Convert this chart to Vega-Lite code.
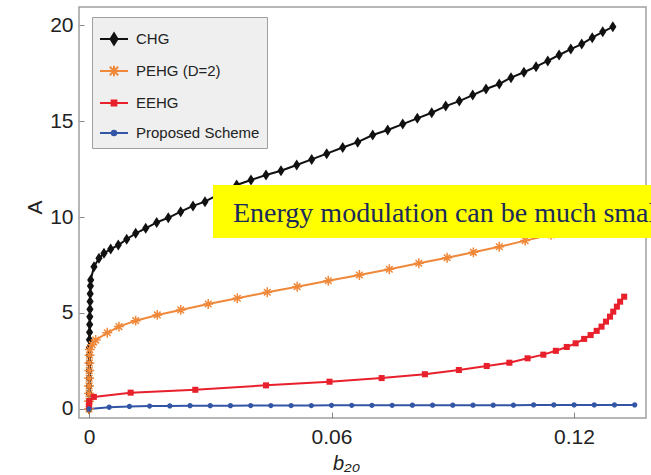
{
  "$schema": "https://vega.github.io/schema/vega-lite/v6.json",
  "width": 567,
  "height": 411,
  "autosize": {"type": "none"},
  "padding": {"left": 79, "top": 7, "right": 5, "bottom": 57},
  "background": "white",
  "config": {"view": {"stroke": "#a0a0a0", "strokeWidth": 1.5}, "font": "Liberation Sans"},
  "datasets": {
    "curves": [
      {"series": "CHG", "b": 0, "A": 0},
      {"series": "CHG", "b": 0.00001, "A": 0.4},
      {"series": "CHG", "b": 0.00002, "A": 0.8},
      {"series": "CHG", "b": 0.00003, "A": 1.2},
      {"series": "CHG", "b": 0.00004, "A": 1.6},
      {"series": "CHG", "b": 0.00005, "A": 2.0},
      {"series": "CHG", "b": 0.00006, "A": 2.4},
      {"series": "CHG", "b": 0.00008, "A": 2.8},
      {"series": "CHG", "b": 0.0001, "A": 3.2},
      {"series": "CHG", "b": 0.00012, "A": 3.6},
      {"series": "CHG", "b": 0.00015, "A": 4.0},
      {"series": "CHG", "b": 0.00018, "A": 4.4},
      {"series": "CHG", "b": 0.00021, "A": 4.8},
      {"series": "CHG", "b": 0.00024, "A": 5.2},
      {"series": "CHG", "b": 0.00027, "A": 5.6},
      {"series": "CHG", "b": 0.0003, "A": 6.0},
      {"series": "CHG", "b": 0.00036, "A": 6.4},
      {"series": "CHG", "b": 0.00042, "A": 6.72},
      {"series": "CHG", "b": 0.00124, "A": 7.41},
      {"series": "CHG", "b": 0.00247, "A": 7.85},
      {"series": "CHG", "b": 0.00371, "A": 8.11},
      {"series": "CHG", "b": 0.00537, "A": 8.33},
      {"series": "CHG", "b": 0.00725, "A": 8.54},
      {"series": "CHG", "b": 0.00933, "A": 8.84},
      {"series": "CHG", "b": 0.01155, "A": 9.15},
      {"series": "CHG", "b": 0.01403, "A": 9.41},
      {"series": "CHG", "b": 0.01675, "A": 9.72},
      {"series": "CHG", "b": 0.01962, "A": 9.96},
      {"series": "CHG", "b": 0.02269, "A": 10.28},
      {"series": "CHG", "b": 0.02573, "A": 10.58},
      {"series": "CHG", "b": 0.0287, "A": 10.8},
      {"series": "CHG", "b": 0.03266, "A": 11.25},
      {"series": "CHG", "b": 0.03654, "A": 11.67},
      {"series": "CHG", "b": 0.04008, "A": 11.93},
      {"series": "CHG", "b": 0.04379, "A": 12.19},
      {"series": "CHG", "b": 0.0475, "A": 12.41},
      {"series": "CHG", "b": 0.05139, "A": 12.71},
      {"series": "CHG", "b": 0.0551, "A": 13.0},
      {"series": "CHG", "b": 0.05881, "A": 13.3},
      {"series": "CHG", "b": 0.06277, "A": 13.62},
      {"series": "CHG", "b": 0.06648, "A": 13.9},
      {"series": "CHG", "b": 0.07019, "A": 14.27},
      {"series": "CHG", "b": 0.0739, "A": 14.53},
      {"series": "CHG", "b": 0.07762, "A": 14.84},
      {"series": "CHG", "b": 0.08123, "A": 15.14},
      {"series": "CHG", "b": 0.08479, "A": 15.43},
      {"series": "CHG", "b": 0.08825, "A": 15.78},
      {"series": "CHG", "b": 0.09161, "A": 16.04},
      {"series": "CHG", "b": 0.09493, "A": 16.35},
      {"series": "CHG", "b": 0.09822, "A": 16.67},
      {"series": "CHG", "b": 0.1015, "A": 16.93},
      {"series": "CHG", "b": 0.1044, "A": 17.26},
      {"series": "CHG", "b": 0.1076, "A": 17.54},
      {"series": "CHG", "b": 0.1106, "A": 17.83},
      {"series": "CHG", "b": 0.1135, "A": 18.13},
      {"series": "CHG", "b": 0.1163, "A": 18.44},
      {"series": "CHG", "b": 0.1192, "A": 18.75},
      {"series": "CHG", "b": 0.1219, "A": 19.01},
      {"series": "CHG", "b": 0.1245, "A": 19.34},
      {"series": "CHG", "b": 0.1271, "A": 19.65},
      {"series": "CHG", "b": 0.1296, "A": 19.91},
      {"series": "PEHG (D=2)", "b": 0, "A": 0},
      {"series": "PEHG (D=2)", "b": 0.00001, "A": 0.4},
      {"series": "PEHG (D=2)", "b": 0.00002, "A": 0.8},
      {"series": "PEHG (D=2)", "b": 0.00003, "A": 1.2},
      {"series": "PEHG (D=2)", "b": 0.00005, "A": 1.6},
      {"series": "PEHG (D=2)", "b": 0.00007, "A": 2.0},
      {"series": "PEHG (D=2)", "b": 0.0001, "A": 2.4},
      {"series": "PEHG (D=2)", "b": 0.00014, "A": 2.8},
      {"series": "PEHG (D=2)", "b": 0.0002, "A": 3.1},
      {"series": "PEHG (D=2)", "b": 0.0008, "A": 3.35},
      {"series": "PEHG (D=2)", "b": 0.00166, "A": 3.59},
      {"series": "PEHG (D=2)", "b": 0.00453, "A": 3.97},
      {"series": "PEHG (D=2)", "b": 0.00742, "A": 4.29},
      {"series": "PEHG (D=2)", "b": 0.01155, "A": 4.6},
      {"series": "PEHG (D=2)", "b": 0.0169, "A": 4.9},
      {"series": "PEHG (D=2)", "b": 0.0227, "A": 5.16},
      {"series": "PEHG (D=2)", "b": 0.0295, "A": 5.47},
      {"series": "PEHG (D=2)", "b": 0.0367, "A": 5.77},
      {"series": "PEHG (D=2)", "b": 0.0441, "A": 6.08},
      {"series": "PEHG (D=2)", "b": 0.0515, "A": 6.37},
      {"series": "PEHG (D=2)", "b": 0.0592, "A": 6.68},
      {"series": "PEHG (D=2)", "b": 0.0669, "A": 6.98},
      {"series": "PEHG (D=2)", "b": 0.0743, "A": 7.28},
      {"series": "PEHG (D=2)", "b": 0.0816, "A": 7.59},
      {"series": "PEHG (D=2)", "b": 0.0886, "A": 7.88},
      {"series": "PEHG (D=2)", "b": 0.0951, "A": 8.16},
      {"series": "PEHG (D=2)", "b": 0.1015, "A": 8.45},
      {"series": "PEHG (D=2)", "b": 0.1079, "A": 8.77},
      {"series": "PEHG (D=2)", "b": 0.1143, "A": 9.07},
      {"series": "PEHG (D=2)", "b": 0.1207, "A": 9.38},
      {"series": "PEHG (D=2)", "b": 0.1272, "A": 9.7},
      {"series": "EEHG", "b": 0, "A": 0.15},
      {"series": "EEHG", "b": 0.0001, "A": 0.4},
      {"series": "EEHG", "b": 0.0012, "A": 0.63},
      {"series": "EEHG", "b": 0.0103, "A": 0.85},
      {"series": "EEHG", "b": 0.0263, "A": 1.0},
      {"series": "EEHG", "b": 0.0438, "A": 1.23},
      {"series": "EEHG", "b": 0.0595, "A": 1.42},
      {"series": "EEHG", "b": 0.0724, "A": 1.61},
      {"series": "EEHG", "b": 0.0831, "A": 1.81},
      {"series": "EEHG", "b": 0.0915, "A": 2.03},
      {"series": "EEHG", "b": 0.0984, "A": 2.24},
      {"series": "EEHG", "b": 0.104, "A": 2.41},
      {"series": "EEHG", "b": 0.1085, "A": 2.64},
      {"series": "EEHG", "b": 0.1124, "A": 2.83},
      {"series": "EEHG", "b": 0.1155, "A": 3.03},
      {"series": "EEHG", "b": 0.1182, "A": 3.23},
      {"series": "EEHG", "b": 0.1204, "A": 3.42},
      {"series": "EEHG", "b": 0.1225, "A": 3.65},
      {"series": "EEHG", "b": 0.1241, "A": 3.85},
      {"series": "EEHG", "b": 0.1256, "A": 4.07},
      {"series": "EEHG", "b": 0.1268, "A": 4.29},
      {"series": "EEHG", "b": 0.1279, "A": 4.55},
      {"series": "EEHG", "b": 0.1289, "A": 4.81},
      {"series": "EEHG", "b": 0.1297, "A": 5.07},
      {"series": "EEHG", "b": 0.1306, "A": 5.33},
      {"series": "EEHG", "b": 0.1314, "A": 5.59},
      {"series": "EEHG", "b": 0.1324, "A": 5.85},
      {"series": "Proposed Scheme", "b": 0, "A": 0},
      {"series": "Proposed Scheme", "b": 0.005, "A": 0.09},
      {"series": "Proposed Scheme", "b": 0.01, "A": 0.13},
      {"series": "Proposed Scheme", "b": 0.015, "A": 0.15},
      {"series": "Proposed Scheme", "b": 0.02, "A": 0.16},
      {"series": "Proposed Scheme", "b": 0.025, "A": 0.17},
      {"series": "Proposed Scheme", "b": 0.03, "A": 0.17},
      {"series": "Proposed Scheme", "b": 0.035, "A": 0.17},
      {"series": "Proposed Scheme", "b": 0.04, "A": 0.18},
      {"series": "Proposed Scheme", "b": 0.045, "A": 0.18},
      {"series": "Proposed Scheme", "b": 0.05, "A": 0.18},
      {"series": "Proposed Scheme", "b": 0.055, "A": 0.18},
      {"series": "Proposed Scheme", "b": 0.06, "A": 0.19},
      {"series": "Proposed Scheme", "b": 0.065, "A": 0.19},
      {"series": "Proposed Scheme", "b": 0.07, "A": 0.19},
      {"series": "Proposed Scheme", "b": 0.075, "A": 0.19},
      {"series": "Proposed Scheme", "b": 0.08, "A": 0.2},
      {"series": "Proposed Scheme", "b": 0.085, "A": 0.2},
      {"series": "Proposed Scheme", "b": 0.09, "A": 0.2},
      {"series": "Proposed Scheme", "b": 0.095, "A": 0.2},
      {"series": "Proposed Scheme", "b": 0.1, "A": 0.2},
      {"series": "Proposed Scheme", "b": 0.105, "A": 0.2},
      {"series": "Proposed Scheme", "b": 0.11, "A": 0.21},
      {"series": "Proposed Scheme", "b": 0.115, "A": 0.21},
      {"series": "Proposed Scheme", "b": 0.12, "A": 0.21},
      {"series": "Proposed Scheme", "b": 0.125, "A": 0.21},
      {"series": "Proposed Scheme", "b": 0.13, "A": 0.21},
      {"series": "Proposed Scheme", "b": 0.135, "A": 0.21}
    ],
    "box": [{"b": 0.03068, "b2": 0.1395, "A": 11.667, "A2": 8.906}],
    "label": [{"b": 0.03563, "A": 9.755, "text": "Energy modulation can be much smaller"}]
  },
  "encoding": {
    "x": {
      "field": "b",
      "type": "quantitative",
      "title": "b₂₀",
      "scale": {"domain": [-0.00247, 0.1378], "nice": false, "zero": false},
      "axis": {
        "values": [0, 0.06, 0.12],
        "format": ".2~f",
        "grid": false,
        "domain": false,
        "tickSize": -6,
        "tickColor": "#888888",
        "labelFont": "Liberation Sans",
        "labelFontSize": 21,
        "labelColor": "#222222",
        "labelPadding": 14,
        "titleFont": "Liberation Sans",
        "titleFontSize": 20,
        "titleFontStyle": "italic",
        "titleFontWeight": "normal",
        "titleColor": "#222222",
        "titleX": 267,
        "titleY": 51,
        "titleAlign": "center",
        "titleBaseline": "alphabetic"
      }
    },
    "y": {
      "field": "A",
      "type": "quantitative",
      "title": "A",
      "scale": {"domain": [-0.47, 20.94], "nice": false, "zero": false},
      "axis": {
        "values": [0, 5, 10, 15, 20],
        "grid": false,
        "domain": false,
        "tickSize": -5,
        "tickColor": "#888888",
        "labelFont": "Liberation Sans",
        "labelFontSize": 21,
        "labelColor": "#222222",
        "labelPadding": 11,
        "titleFont": "Liberation Sans",
        "titleFontSize": 21,
        "titleFontWeight": "normal",
        "titleColor": "#222222",
        "titleX": -38,
        "titleY": 200,
        "titleAlign": "center",
        "titleBaseline": "alphabetic"
      }
    }
  },
  "layer": [
    {
      "data": {"name": "curves"},
      "mark": {"type": "line", "strokeWidth": 2, "clip": true},
      "encoding": {
        "stroke": {
          "field": "series",
          "type": "nominal",
          "scale": {"domain": ["CHG", "PEHG (D=2)", "EEHG", "Proposed Scheme"], "range": ["#111111", "#f0883a", "#e8202c", "#3355a5"]}
        }
      }
    },
    {
      "data": {"name": "curves"},
      "transform": [{"filter": "datum.series === 'CHG'"}],
      "mark": {"type": "point", "filled": true, "opacity": 1, "color": "#111111", "size": 121, "shape": "M0,-1L0.65,0L0,1L-0.65,0Z", "clip": true}
    },
    {
      "data": {"name": "curves"},
      "transform": [{"filter": "datum.series === 'PEHG (D=2)'"}],
      "mark": {"type": "point", "filled": false, "opacity": 1, "color": "#f0883a", "strokeWidth": 1.5, "size": 121, "shape": "M0,-0.9L0,0.9M-0.9,0L0.9,0M-0.6,-0.6L0.6,0.6M-0.6,0.6L0.6,-0.6", "clip": true}
    },
    {
      "data": {"name": "curves"},
      "transform": [{"filter": "datum.series === 'EEHG'"}],
      "mark": {"type": "point", "filled": true, "opacity": 1, "color": "#e8202c", "size": 121, "shape": "M-0.55,-0.55L0.55,-0.55L0.55,0.55L-0.55,0.55Z", "clip": true}
    },
    {
      "data": {"name": "curves"},
      "transform": [{"filter": "datum.series === 'Proposed Scheme'"}],
      "mark": {"type": "point", "filled": true, "opacity": 1, "color": "#3355a5", "size": 121, "shape": "M-0.48,0A0.48,0.48 0 1 0 0.48,0A0.48,0.48 0 1 0 -0.48,0Z", "clip": true}
    },
    {
      "data": {"name": "curves"},
      "transform": [{"filter": "datum.b < -1"}],
      "mark": {"type": "point", "filled": true, "opacity": 1, "strokeWidth": 2, "size": 784},
      "encoding": {
        "fill": {
          "field": "series",
          "type": "nominal",
          "scale": {"domain": ["CHG", "PEHG (D=2)", "EEHG", "Proposed Scheme"], "range": ["#111111", "#f0883a", "#e8202c", "#3355a5"]}
        },
        "stroke": {"field": "series", "type": "nominal"},
        "shape": {
          "field": "series",
          "type": "nominal",
          "scale": {"domain": ["CHG", "PEHG (D=2)", "EEHG", "Proposed Scheme"], "range": ["M-1,0L1,0M0,-0.4L0.25,0L0,0.4L-0.25,0Z", "M-1,0L1,0M0,-0.38L0,0.38M-0.3,-0.3L0.3,0.3M-0.3,0.3L0.3,-0.3", "M-1,0L1,0M-0.17,-0.17L0.17,-0.17L0.17,0.17L-0.17,0.17Z", "M-1,0L1,0M-0.16,0A0.16,0.16 0 1 0 0.16,0A0.16,0.16 0 1 0 -0.16,0Z"]},
          "legend": {
            "orient": "none",
            "legendX": 13,
            "legendY": 10,
            "title": null,
            "fillColor": "#efefef",
            "strokeColor": "#a0a0a0",
            "padding": 7,
            "symbolSize": 784,
            "rowPadding": 7,
            "labelFont": "Liberation Sans",
            "labelFontSize": 15,
            "labelColor": "#222222",
            "labelOffset": 7,
            "symbolStrokeWidth": 2,
            "encode": {
              "symbols": {
                "update": {
                  "size": {"value": 784},
                  "strokeWidth": {"value": 2},
                  "opacity": {"value": 1}
                }
              },
              "legend": {"update": {"strokeWidth": {"value": 2}}}
            }
          }
        }
      }
    },
    {
      "data": {"name": "box"},
      "mark": {"type": "rect", "color": "#ffff00", "clip": false},
      "encoding": {
        "x2": {"field": "b2"},
        "y2": {"field": "A2"}
      }
    },
    {
      "data": {"name": "label"},
      "mark": {"type": "text", "align": "left", "baseline": "alphabetic", "font": "Liberation Serif", "fontSize": 28, "color": "#1a2a5a", "clip": false},
      "encoding": {
        "text": {"field": "text", "type": "nominal"}
      }
    }
  ]
}
